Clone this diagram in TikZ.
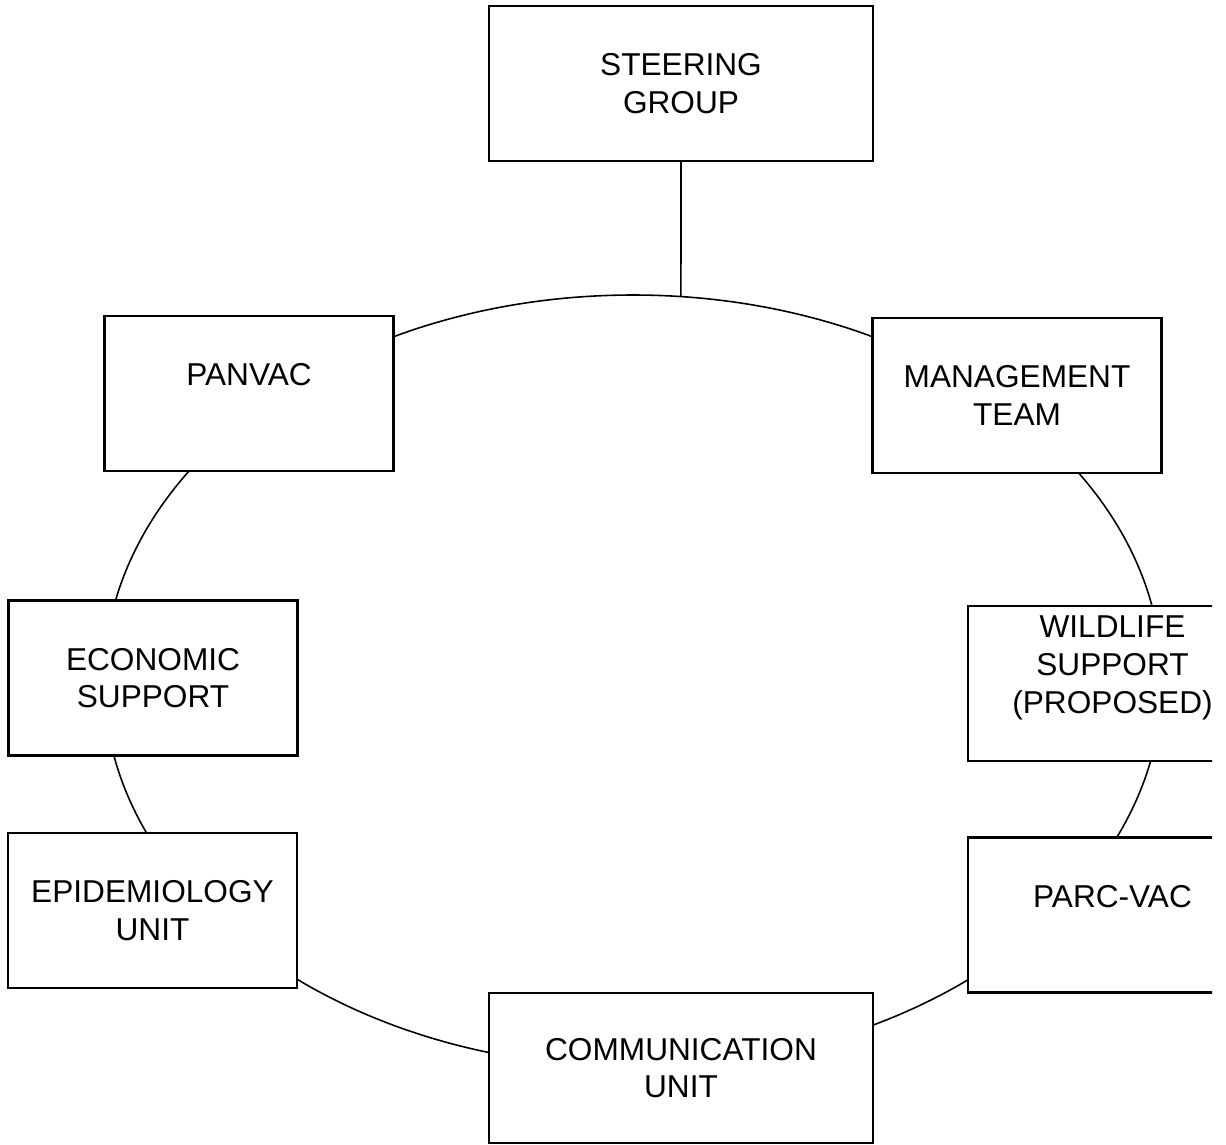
\documentclass[tikz,border=0pt]{standalone}
\usepackage{fontspec}
\setmainfont{Liberation Sans}
\usepackage{tikz}

\begin{document}
\begin{tikzpicture}[x=0.02cm,y=-0.02cm,
  unit/.style={draw,fill=white,line width=1.3pt,align=center,inner sep=0pt,
    minimum width=5.78cm,minimum height=3.1cm,
    font=\fontsize{18}{21.5}\selectfont},
  wideunit/.style={unit,minimum width=7.68cm},
  ring/.style={line width=0.9pt}]
\useasboundingbox (0,0) rectangle (1226,1144);
\begin{scope}
 \clip (0,0) rectangle (1212,1144);
 % the ring that joins the units
 \coordinate (ringc) at (633,681);
 \draw[ring] (ringc) ellipse [x radius=529,y radius=386];
 \path (ringc) ++(-84.8:529 and 386) coordinate (ringtop);
 % units
 \node[wideunit] (steer) at (681,83.5) {STEERING\\GROUP};
 \node[unit] (panvac) at (249,393.5) {PANVAC\\ \mbox{}};
 \node[unit] (mgmt) at (1017,395.5) {MANAGEMENT\\TEAM};
 \node[unit] (econ) at (153,678) {ECONOMIC\\SUPPORT};
 \node[unit] (wild) at (1112.5,683.5) {WILDLIFE\\SUPPORT\\(PROPOSED)\\ \mbox{}};
 \node[unit] (epi) at (152.5,910.5) {EPIDEMIOLOGY\\UNIT};
 \node[unit] (parc) at (1112.5,915) {PARC-VAC\\ \mbox{}};
 \node[wideunit,minimum height=3cm] (comm) at (681,1068) {COMMUNICATION\\UNIT};
 \draw[ring] (steer.south) -- (ringtop);
\end{scope}
\end{tikzpicture}
\end{document}
